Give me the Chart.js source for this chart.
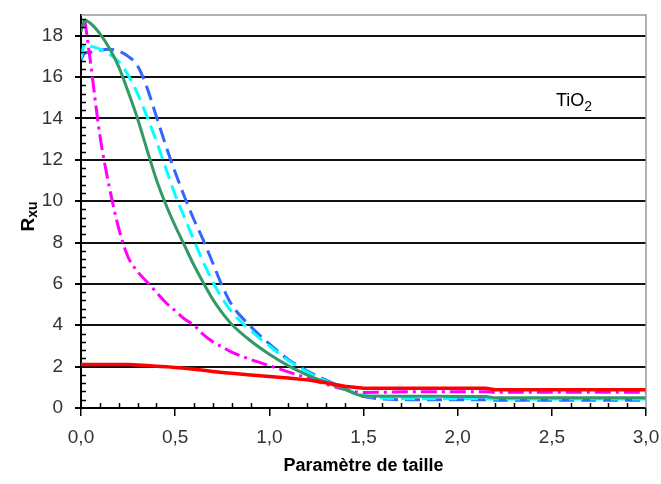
<!DOCTYPE html>
<html>
<head>
<meta charset="utf-8">
<script src="https://cdn.jsdelivr.net/npm/chart.js@4/dist/chart.umd.min.js"></script>
<style>
  html, body { margin: 0; padding: 0; background: #fff; }
  #grafico { display: block; }
</style>
</head>
<body>
<canvas id="grafico" width="661" height="484"></canvas>
<script>
//DONNEES
const tailles = [0, 0.02, 0.05, 0.1, 0.15, 0.2, 0.25, 0.3, 0.35, 0.4, 0.45, 0.5, 0.55, 0.6, 0.65, 0.7, 0.75, 0.8, 0.9, 1.0, 1.1, 1.2, 1.3, 1.4, 1.5, 1.75, 2.0, 2.15, 2.2, 2.5, 2.75, 3.0];

const serieVerte   = [18.2, 18.75, 18.6, 18.1, 17.4, 16.5, 15.3, 14.0, 12.5, 11.05, 9.85, 8.8, 7.85, 6.9, 6.05, 5.25, 4.6, 4.05, 3.25, 2.6, 2.05, 1.6, 1.25, 0.9, 0.58, 0.57, 0.56, 0.55, 0.5, 0.5, 0.5, 0.5];
const serieCyan    = [16.9, 17.6, 17.5, 17.35, 17.1, 16.75, 16.1, 15.2, 14.1, 12.9, 11.6, 10.3, 9.2, 8.1, 7.05, 6.1, 5.3, 4.65, 3.75, 3.0, 2.3, 1.75, 1.3, 0.95, 0.6, 0.45, 0.45, 0.45, 0.43, 0.43, 0.43, 0.43];
const serieBleue   = [16.85, 17.15, 17.2, 17.3, 17.35, 17.25, 17.0, 16.55, 15.5, 14.1, 12.7, 11.4, 10.2, 9.1, 8.1, 7.0, 5.9, 5.0, 3.95, 3.1, 2.35, 1.8, 1.35, 0.95, 0.55, 0.4, 0.4, 0.4, 0.38, 0.38, 0.38, 0.38];
const serieMagenta = [null, 18.8, 16.75, 13.2, 10.7, 8.7, 7.3, 6.6, 6.1, 5.6, 5.1, 4.7, 4.3, 4.0, 3.55, 3.2, 2.95, 2.7, 2.35, 2.05, 1.75, 1.45, 1.15, 0.9, 0.75, 0.78, 0.78, 0.78, 0.76, 0.76, 0.76, 0.76];
const serieRouge   = [2.1, 2.1, 2.1, 2.1, 2.1, 2.1, 2.1, 2.08, 2.05, 2.02, 2.0, 1.96, 1.92, 1.87, 1.82, 1.77, 1.72, 1.68, 1.6, 1.52, 1.45, 1.36, 1.22, 1.05, 0.95, 0.95, 0.95, 0.95, 0.88, 0.88, 0.88, 0.88];

const ticksX = [0, 0.5, 1.0, 1.5, 2.0, 2.5, 3.0];
const ticksY = [0, 2, 4, 6, 8, 10, 12, 14, 16, 18];

const police = "'Liberation Sans', Arial, sans-serif";

function points(valeurs) {
  return tailles.map((x, i) => ({ x, y: valeurs[i] }));
}

function serie(valeurs, couleur, dash, largeur, lisse) {
  return {
    data: points(valeurs),
    borderColor: couleur,
    backgroundColor: couleur,
    borderWidth: largeur,
    borderDash: dash,
    pointRadius: 0,
    fill: false,
    spanGaps: true,
    cubicInterpolationMode: lisse ? 'monotone' : 'default',
    tension: 0
  };
}

//graduations secondaires, cadre et textes
const decor = {
  id: 'decor',
  afterDraw(chart) {
    const { ctx, chartArea: a, scales: { x, y } } = chart;
    ctx.save();
    ctx.strokeStyle = '#999';
    ctx.lineWidth = 1.5;
    ctx.beginPath();
    ctx.moveTo(a.left, a.top);
    ctx.lineTo(a.right, a.top);
    ctx.lineTo(a.right, a.bottom);
    ctx.stroke();

    ctx.strokeStyle = '#000';
    ctx.lineWidth = 1.5;
    ctx.beginPath();
    for (let k = 1; k < 30; k++) {
      if (k % 5 === 0) continue;
      const px = Math.round(x.getPixelForValue(k / 10)) + 0.5;
      ctx.moveTo(px, a.bottom);
      ctx.lineTo(px, a.bottom - 5);
    }
    for (let k = 1; k < 48; k++) {
      if (k % 5 === 0) continue;
      const py = Math.round(y.getPixelForValue(k * 0.4)) + 0.5;
      ctx.moveTo(a.left, py);
      ctx.lineTo(a.left + 5, py);
    }
    ctx.stroke();

    // Rxu
    ctx.fillStyle = '#000';
    ctx.translate(34, (a.top + a.bottom) / 2 + 8);
    ctx.rotate(-Math.PI / 2);
    ctx.textBaseline = 'alphabetic';
    ctx.font = "bold 19px " + police;
    ctx.fillText('R', -12, 0);
    const w = ctx.measureText('R').width;
    ctx.font = "bold 14px " + police;
    ctx.fillText('xu', -12 + w, 3);
    ctx.setTransform(1, 0, 0, 1, 0, 0);

    // TiO2
    ctx.font = "18px " + police;
    ctx.fillText('TiO', 556, 106);
    const w2 = ctx.measureText('TiO').width;
    ctx.font = "14px " + police;
    ctx.fillText('2', 556 + w2, 111);
    ctx.restore();
  }
};

new Chart(document.getElementById('grafico').getContext('2d'), {
  type: 'line',
  data: {
    datasets: [
      serie(serieRouge, '#ff0000', [], 3.5, false),
      serie(serieVerte, '#339966', [], 3, true),
      serie(serieMagenta, '#ff00ff', [16, 5, 3, 5], 3, true),
      serie(serieCyan, '#00ffff', [14, 7], 3, true),
      serie(serieBleue, '#3366ff', [15, 7], 3, true)
    ]
  },
  options: {
    responsive: false,
    animation: false,
    layout: { padding: { top: 15, right: 15, left: 0, bottom: 0 } },
    plugins: { legend: { display: false }, tooltip: { enabled: false } },
    scales: {
      x: {
        type: 'linear',
        min: 0,
        max: 3,
        afterBuildTicks: s => { s.ticks = ticksX.map(value => ({ value })); },
        afterFit: s => { s.height = 76; s.paddingLeft = 0; s.paddingRight = 0; },
        border: { color: '#000', width: 2 },
        grid: { drawOnChartArea: false, drawTicks: true, tickLength: 8, tickColor: '#000', lineWidth: 1.5 },
        ticks: {
          padding: 10,
          color: '#333',
          font: { family: police, size: 19 },
          maxRotation: 0,
          callback: v => v.toFixed(1).replace('.', ',')
        },
        title: {
          display: true,
          text: 'Paramètre de taille',
          color: '#000',
          font: { family: police, size: 18, weight: 'bold' },
          padding: { top: 0, bottom: 7 }
        }
      },
      y: {
        type: 'linear',
        min: 0,
        max: 19,
        afterBuildTicks: s => { s.ticks = ticksY.map(value => ({ value })); },
        afterFit: s => { s.width = 81; s.paddingTop = 0; s.paddingBottom = 0; },
        border: { color: '#000', width: 2 },
        grid: { color: '#111', lineWidth: 2, drawTicks: true, tickLength: 6, tickColor: '#000' },
        ticks: {
          padding: 12,
          color: '#333',
          font: { family: police, size: 19 }
        }
      }
    }
  },
  plugins: [decor]
});
</script>
</body>
</html>
